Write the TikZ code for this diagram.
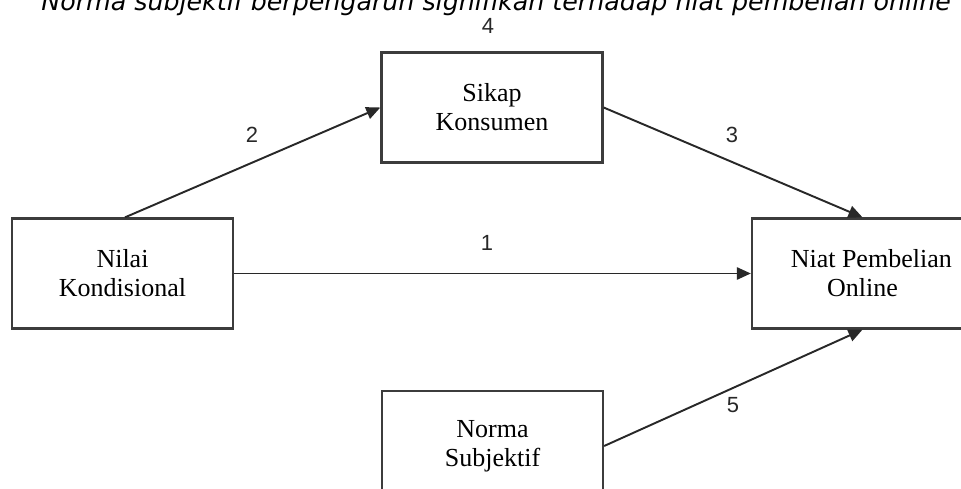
\documentclass[tikz,border=0pt]{standalone}
\usepackage{fontspec}
\setmainfont{Liberation Serif}
\newfontfamily\numfont{Liberation Sans}
\newfontfamily\capfont{DejaVu Sans}
\usepackage{tikz}
\usetikzlibrary{arrows.meta, positioning}
\definecolor{cLine}{RGB}{40,40,40}
\definecolor{cBox}{RGB}{60,60,60}
\tikzset{
	varbox/.style  ={rectangle, draw=cBox, line width=1.3pt, minimum width=221*0.02cm, minimum height=110*0.02cm, align=center, font=\fontsize{14.8}{16.5}\selectfont, inner sep=0pt},
	path/.style    ={-{Triangle[length=8pt, width=7pt]}, draw=cLine, line width=1.1pt},
	hyp/.style     ={font=\numfont\fontsize{12.5}{14}\selectfont, text=cLine, inner sep=0pt},
}
\begin{document}
\begin{tikzpicture}[x=0.02cm, y=-0.02cm]
	\useasboundingbox (0,0) rectangle (961,489);
	\clip (0,0) rectangle (961,489);
	% cut-off heading line
	\node[anchor=base west, inner sep=0pt, font=\capfont\itshape\fontsize{14.4}{16}\selectfont] (head) at (41,11) {Norma subjektif berpengaruh signifikan terhadap niat pembelian online};
	% variables
	\node[varbox] (nilai) at (122.5,273.5) {Nilai\\Kondisional};
	\node[varbox] (sikap) at (492,107.5) {Sikap\\Konsumen};
	\node[varbox] (niat)  at (862.5,273.5) {\hspace*{10pt}Niat Pembelian\\Online};
	\node[varbox] (norma) at (492.5,446) {Norma\\Subjektif};
	% paths
	\draw[path] (nilai.east) -- (niat.west);
	\draw[path] ([xshift=2.5*0.02cm]nilai.north) -- (sikap.west);
	\draw[path] (sikap.east) -- (niat.north);
	\draw[path] (norma.east) -- (niat.south);
	% hypothesis numbers
	\node[hyp] (h1) at (487,243) {1};
	\node[hyp] (h2) at (252,135) {2};
	\node[hyp] (h3) at (732,135) {3};
	\node[hyp] (h4) at (488,26) {4};
	\node[hyp] (h5) at (733,405) {5};
\end{tikzpicture}
\end{document}
